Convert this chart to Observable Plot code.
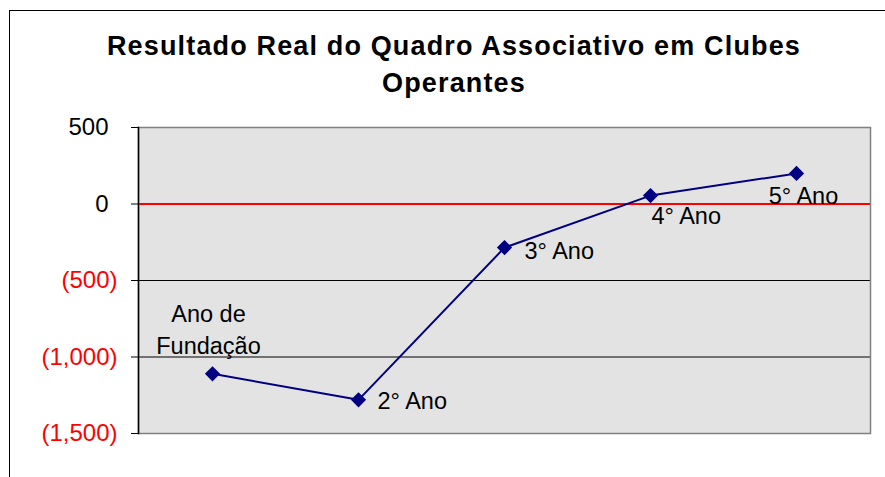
<!DOCTYPE html>
<html>
<head>
<meta charset="utf-8">
<script src="https://cdn.jsdelivr.net/npm/d3@7"></script>
<script src="https://cdn.jsdelivr.net/npm/@observablehq/plot@0.6"></script>
<style>
  html, body { margin: 0; padding: 0; background: #fff; overflow: hidden; }
  body { width: 885px; height: 477px; position: relative; font-family: "Liberation Sans", Arial, sans-serif; }
  #border { position: absolute; left: 9px; top: 10px; width: 1000px; height: 1000px;
            border-left: 1px solid #000; border-top: 1px solid #000; }
  #title { position: relative; width: 890px; margin-left: 9px; height: 110px; box-sizing: border-box;
           padding-top: 28px; text-align: center; font-weight: bold; font-size: 27px;
           line-height: 37px; letter-spacing: 1.15px; color: #000; }
  #chart { position: relative; }
</style>
</head>
<body>
<div id="border"></div>
<div id="title">Resultado Real do Quadro Associativo em Clubes<br>Operantes</div>
<div id="chart"></div>
<script>
const categories = ["Ano de Fundação", "2° Ano", "3° Ano", "4° Ano", "5° Ano"];
const values = [-1110, -1280, -285, 55, 200];
const pointLabels = ["Ano de\nFundação", "2° Ano", "3° Ano", "4° Ano", "5° Ano"];
const positiveTicks = [500, 0];
const negativeTicks = [-500, -1000, -1500];
const gridValues = [-500, -1000];
const zeroLine = [0];

const data = categories.map((c, i) => ({cat: c, value: values[i], label: pointLabels[i]}));
const fmt = d3.format(",");
const labelMark = (i, opts) => Plot.text([data[i]], {
  x: "cat", y: "value", text: "label", fontSize: 23.5, fill: "#000", ...opts
});

const chart = Plot.plot({
  width: 885,
  height: 367,
  marginTop: 17,
  marginBottom: 44,
  marginLeft: 138,
  marginRight: 15,
  style: {fontFamily: "'Liberation Sans', Arial, sans-serif", background: "transparent", overflow: "visible"},
  x: {type: "point", domain: categories, padding: 0.5, axis: null},
  y: {domain: [-1500, 500], axis: null},
  marks: [
    Plot.frame({fill: "#e3e3e3"}),
    Plot.ruleY(gridValues, {stroke: "#000", strokeWidth: 1}),
    Plot.ruleY(zeroLine, {stroke: "#ff0000", strokeWidth: 2}),
    Plot.frame({stroke: "#808080", strokeWidth: 1.5}),
    Plot.frame({anchor: "left", stroke: "#000", strokeWidth: 1.5}),
    Plot.line(data, {x: "cat", y: "value", stroke: "#000080", strokeWidth: 2}),
    Plot.dot(data, {x: "cat", y: "value", symbol: "diamond2", r: 5.9, fill: "#000080", stroke: "#000080"}),
    labelMark(0, {textAnchor: "middle", lineAnchor: "bottom", lineHeight: 1.36, dx: -4, dy: -20}),
    labelMark(1, {textAnchor: "start", lineAnchor: "middle", dx: 19, dy: 2}),
    labelMark(2, {textAnchor: "start", lineAnchor: "middle", dx: 20, dy: 4}),
    labelMark(3, {textAnchor: "start", lineAnchor: "middle", dx: 1, dy: 21}),
    labelMark(4, {textAnchor: "middle", lineAnchor: "middle", dx: 7, dy: 23}),
    Plot.axisY(positiveTicks, {tickSize: 7, tickPadding: 23, fontSize: 24, fill: "#000", stroke: "#000",
      tickFormat: d => fmt(d), label: null}),
    Plot.axisY(negativeTicks, {tickSize: 7, tickPadding: 14, fontSize: 24, fill: "#ff0000", stroke: "#000",
      tickFormat: d => `(${fmt(-d)})`, label: null})
  ]
});
document.getElementById("chart").appendChild(chart);
</script>
</body>
</html>
